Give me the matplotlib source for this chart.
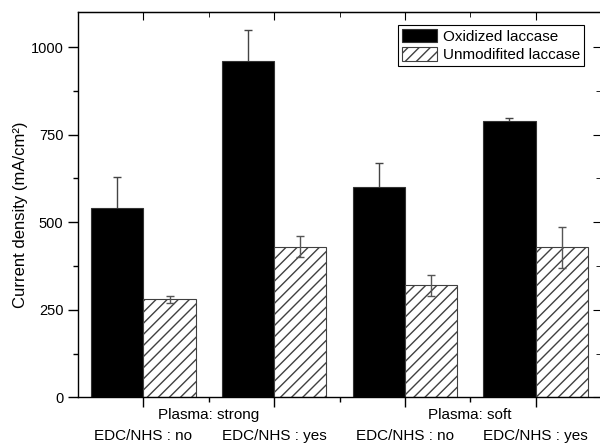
import numpy as np
import matplotlib as mpl
mpl.use('Agg')
import matplotlib.pyplot as plt
from matplotlib.ticker import FixedLocator, NullFormatter

plt.rcParams['font.family'] = ['Liberation Sans', 'DejaVu Sans']
plt.rcParams['font.size'] = 11

# data
edc_labels = ['EDC/NHS : no', 'EDC/NHS : yes', 'EDC/NHS : no', 'EDC/NHS : yes']
plasma_labels = ['Plasma: strong', 'Plasma: soft']
oxidized = [540, 960, 600, 790]
oxidized_err = [90, 90, 70, 8]
unmodified = [280, 430, 320, 428]
unmodified_err = [10, 30, 30, 58]

groups = np.arange(1, len(oxidized) + 1)
w = 0.4

fig = plt.figure(figsize=(6, 4.43), dpi=100)
ax = fig.add_axes([78/600, 1 - 397.3/443, 523/600, 385.3/443])

# oxidized error bars sit behind the black bars so only the upper half shows
ax.errorbar(groups - w/2, oxidized, yerr=oxidized_err, fmt='none', ecolor='#444444',
            elinewidth=1, capsize=3, capthick=1, zorder=1)
ax.bar(groups - w/2, oxidized, w, color='black', edgecolor='#333333', linewidth=0.8,
       label='Oxidized laccase', zorder=2)
ax.bar(groups + w/2, unmodified, w, color='white', edgecolor='#404040', linewidth=0.8,
       hatch='///', label='Unmodifited laccase', zorder=2)
ax.errorbar(groups + w/2, unmodified, yerr=unmodified_err, fmt='none', ecolor='#555555',
            elinewidth=1, capsize=3, capthick=1, zorder=3)

ax.set_xlim(0.5, 4.5)
ax.set_ylim(0, 1100)

ax.set_xticks(groups)
ax.set_xticklabels(edc_labels)
ax.xaxis.set_minor_locator(FixedLocator([1.5, 2.5, 3.5]))
ax.yaxis.set_major_locator(FixedLocator([0, 250, 500, 750, 1000]))
ax.yaxis.set_minor_locator(FixedLocator([125, 375, 625, 875]))
ax.tick_params(axis='both', which='major', direction='out', length=7, width=1)
ax.tick_params(axis='both', which='minor', direction='out', length=3.5, width=1)
ax.tick_params(axis='x', which='major', pad=16)
ax.tick_params(axis='y', which='major', pad=3.5, labelsize=10.5)

for s in ax.spines.values():
    s.set_linewidth(1)
ax.spines['right'].set_visible(False)

# mirrored inward ticks on top and right
top = ax.secondary_xaxis('top')
top.set_xticks(groups)
top.xaxis.set_minor_locator(FixedLocator([1.5, 2.5, 3.5]))
top.tick_params(which='major', direction='in', length=6, labeltop=False)
top.tick_params(which='minor', direction='in', length=3.5)
top.xaxis.set_major_formatter(NullFormatter())

right = ax.secondary_yaxis('right')
right.yaxis.set_major_locator(FixedLocator([0, 250, 500, 750, 1000]))
right.yaxis.set_minor_locator(FixedLocator([125, 375, 625, 875]))
right.tick_params(which='major', direction='in', length=6, labelright=False)
right.tick_params(which='minor', direction='in', length=3.5)
right.spines['right'].set_visible(False)

trans = ax.get_xaxis_transform()
for x, lab in zip([1.5, 3.5], plasma_labels):
    ax.text(x, -0.045, lab, transform=trans, ha='center', va='center')

ax.set_ylabel('Current density (mA/cm²)', fontsize=12)
ax.yaxis.set_label_coords((28 - 78)/522, (397.3 - 215)/385.3)

leg = ax.legend(loc='upper right', bbox_to_anchor=((583 - 78)/522, (397.3 - 25)/385.3),
                borderaxespad=0, fancybox=False, framealpha=1, edgecolor='black',
                handlelength=2.3, handleheight=1.0, handletextpad=0.4,
                labelspacing=0.2, borderpad=0.25)
leg.get_frame().set_linewidth(0.8)

fig.savefig('out.png', dpi=100)
